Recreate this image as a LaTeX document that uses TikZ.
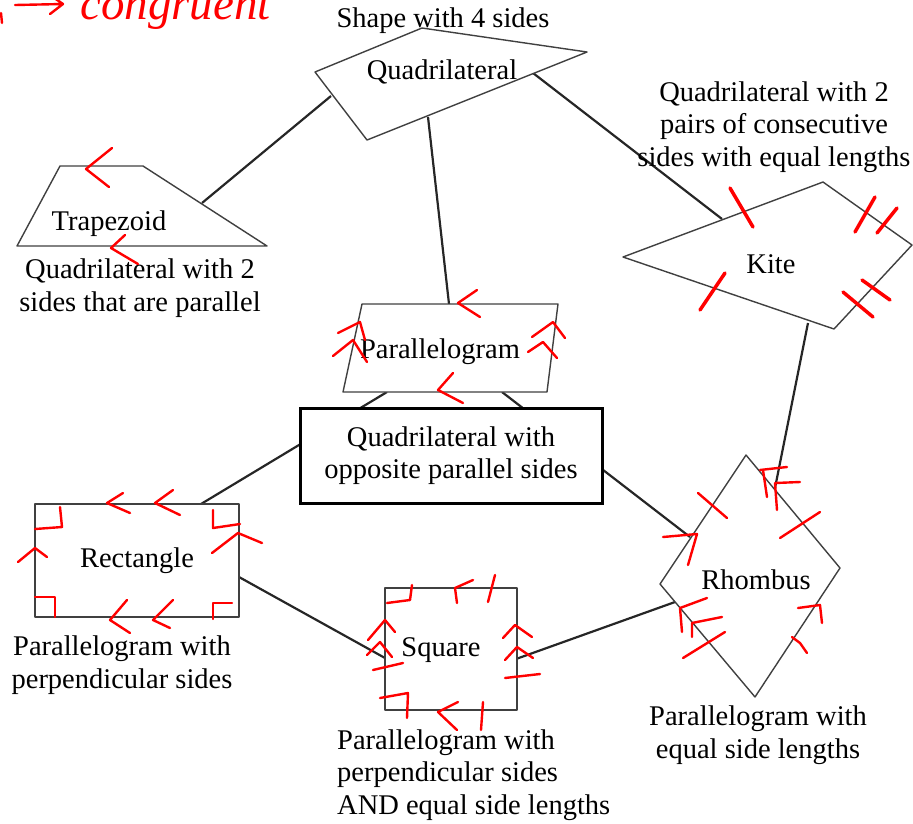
\documentclass[tikz,border=0pt]{standalone}
\usepackage{fontspec}
\setmainfont{Liberation Serif}
\usetikzlibrary{arrows,positioning}

\begin{document}
\begin{tikzpicture}[x=1pt,y=-1pt,
    shp/.style={draw=black!75,line width=1.4pt,fill=white,line join=round},
    link/.style={draw=black!85,line width=2.2pt},
    txt/.style={font=\fontsize{28.5}{32.5}\selectfont,align=center,inner sep=0pt},
    bigbox/.style={txt,draw=black,line width=3pt,fill=white,minimum width=302,minimum height=95},
    redpen/.style={draw=red,line width=2.4pt,line cap=round,line join=round}]
  \useasboundingbox (0,0) rectangle (913,823);
  \clip (0,0) rectangle (913,823);

  \coordinate (q1) at (315,72);  \coordinate (q2) at (422,28);
  \coordinate (q3) at (587,52);  \coordinate (q4) at (367,140);
  \coordinate (t1) at (60,166);  \coordinate (t2) at (143,166);
  \coordinate (t3) at (267,246); \coordinate (t4) at (17,246);
  \coordinate (k1) at (623,257); \coordinate (k2) at (823,182);
  \coordinate (k3) at (912,245); \coordinate (k4) at (834,329);
  \coordinate (p1) at (362,304); \coordinate (p2) at (558,304);
  \coordinate (p3) at (547,392); \coordinate (p4) at (343,392);
  \coordinate (h1) at (746,455); \coordinate (h2) at (840,568);
  \coordinate (h3) at (755,697); \coordinate (h4) at (660,584);

  \coordinate (quad-trap) at (331,96);  \coordinate (trap-quad) at (202,203);
  \coordinate (quad-para) at (428,117); \coordinate (para-quad) at (449,304);
  \coordinate (quad-kite) at (533,73);  \coordinate (kite-quad) at (722,219);
  \coordinate (kite-rhom) at (808,323); \coordinate (rhom-kite) at (775,488);
  \coordinate (para-rect) at (387,392); \coordinate (rect-para) at (201,504);
  \coordinate (para-rhom) at (502,392); \coordinate (rhom-para) at (690,537);
  \coordinate (rect-sq) at (239,577);   \coordinate (sq-rect) at (385,658);
  \coordinate (sq-rhom) at (516,659);   \coordinate (rhom-sq) at (675,602);

  \path[link]
    (quad-trap) edge (trap-quad)
    (quad-para) edge (para-quad)
    (quad-kite) edge (kite-quad)
    (kite-rhom) edge (rhom-kite)
    (para-rect) edge (rect-para)
    (para-rhom) edge (rhom-para)
    (rect-sq) edge (sq-rect)
    (sq-rhom) edge (rhom-sq);

  \draw[shp] (q1) -- (q2) -- (q3) -- (q4) -- cycle;
  \draw[shp] (t1) -- (t2) -- (t3) -- (t4) -- cycle;
  \draw[shp] (k1) -- (k2) -- (k3) -- (k4) -- cycle;
  \draw[shp] (p1) -- (p2) -- (p3) -- (p4) -- cycle;
  \draw[shp] (h1) -- (h2) -- (h3) -- (h4) -- cycle;
  \draw[shp] (35,504) rectangle (239,617);
  \draw[shp] (385,588) rectangle (517,710);

  \node[bigbox] (opp) at (451,455.5) {Quadrilateral with\\opposite parallel sides};

  \node[txt] (quad) at (442,72) {Quadrilateral};
  \node[txt] (quadtxt) at (443,21) {Shape with 4 sides};
  \node[txt] (trap) at (109,224) {Trapezoid};
  \node[txt] (traptxt) at (140,288) {Quadrilateral with 2\\sides that are parallel};
  \node[txt] (kite) at (771,264) {Kite};
  \node[txt] (kitetxt) at (774,127) {Quadrilateral with 2\\pairs of consecutive\\sides with equal lengths};
  \node[txt] (para) at (440,352) {Parallelogram};
  \node[txt] (rect) at (137,561) {Rectangle};
  \node[txt] (recttxt) at (122,665) {Parallelogram with\\perpendicular sides};
  \node[txt] (sq) at (441,650) {Square};
  \node[txt,align=left,anchor=west] (sqtxt) at (337,775) {Parallelogram with\\perpendicular sides\\AND equal side lengths};
  \node[txt] (rhom) at (756,580) {Rhombus};
  \node[txt] (rhomtxt) at (758,735) {Parallelogram with\\equal side lengths};

  \node[red,inner sep=0pt,anchor=base west,font=\fontsize{47}{50}\itshape] (cong) at (80,19) {congruent};
  \draw[redpen] (15,5) -- (63,4) (50,-5) -- (63,4) -- (50,14);
  \draw[redpen] (1,13) -- (2,23);

  \draw[redpen] (112,148) -- (86,169) -- (109,187);
  \draw[redpen] (125,235) -- (111,248) -- (138,264);

  \draw[redpen] (477,290) -- (458,303) -- (480,317);
  \draw[redpen] (453,373) -- (438,390) -- (463,403);
  \draw[redpen] (338,333) -- (360,322) -- (365,340);
  \draw[redpen] (333,356) -- (353,340) -- (367,362);
  \draw[redpen] (532,337) -- (553,322) -- (565,338);
  \draw[redpen] (528,352) -- (543,342) -- (557,358);

  \draw[redpen,line width=3.5pt] (730,188) -- (753,227);
  \draw[redpen,line width=3.5pt] (875,197) -- (855,232);
  \draw[redpen,line width=3.5pt] (897,208) -- (877,233);
  \draw[redpen,line width=3.5pt] (725,273) -- (700,310);
  \draw[redpen,line width=3.5pt] (862,280) -- (890,300);
  \draw[redpen,line width=3.5pt] (843,292) -- (873,317);

  \draw[redpen] (123,493) -- (107,503) -- (130,513);
  \draw[redpen] (173,490) -- (155,503) -- (180,515);
  \draw[redpen] (127,600) -- (110,620) -- (130,633);
  \draw[redpen] (173,600) -- (153,620) -- (170,628);
  \draw[redpen] (18,562) -- (35,548) -- (47,557);
  \draw[redpen] (212,553) -- (238,533) -- (262,543);
  \draw[redpen] (35,529) -- (62,527) -- (60,507);
  \draw[redpen] (213,510) -- (213,528) -- (240,524);
  \draw[redpen] (35,597) -- (55,597) -- (55,617);
  \draw[redpen] (232,603) -- (213,603) -- (213,619);

  \draw[redpen] (387,603) -- (410,600) -- (412,585);
  \draw[redpen] (473,580) -- (455,588) -- (457,603);
  \draw[redpen] (495,575) -- (488,602);
  \draw[redpen] (368,640) -- (385,620) -- (395,632);
  \draw[redpen] (367,655) -- (380,642) -- (392,657);
  \draw[redpen] (373,670) -- (403,663);
  \draw[redpen] (503,638) -- (515,625) -- (532,637);
  \draw[redpen] (505,660) -- (517,647) -- (533,658);
  \draw[redpen] (505,678) -- (540,674);
  \draw[redpen] (380,698) -- (408,693) -- (407,718);
  \draw[redpen] (458,702) -- (438,712) -- (457,730);
  \draw[redpen] (483,702) -- (481,730);

  \draw[redpen] (698,493) -- (727,518);
  \draw[redpen] (760,470) -- (787,467) (763,470) -- (767,497);
  \draw[redpen] (775,483) -- (800,482) (775,483) -- (777,510);
  \draw[redpen] (820,512) -- (780,538);
  \draw[redpen] (663,537) -- (697,534) -- (688,565);
  \draw[redpen] (707,598) -- (680,608) -- (682,632);
  \draw[redpen] (722,617) -- (692,623) -- (692,637);
  \draw[redpen] (725,632) -- (683,658);
  \draw[redpen] (798,608) -- (820,605) -- (822,623);
  \draw[redpen] (792,637) -- (800,643) -- (807,653);
\end{tikzpicture}
\end{document}
